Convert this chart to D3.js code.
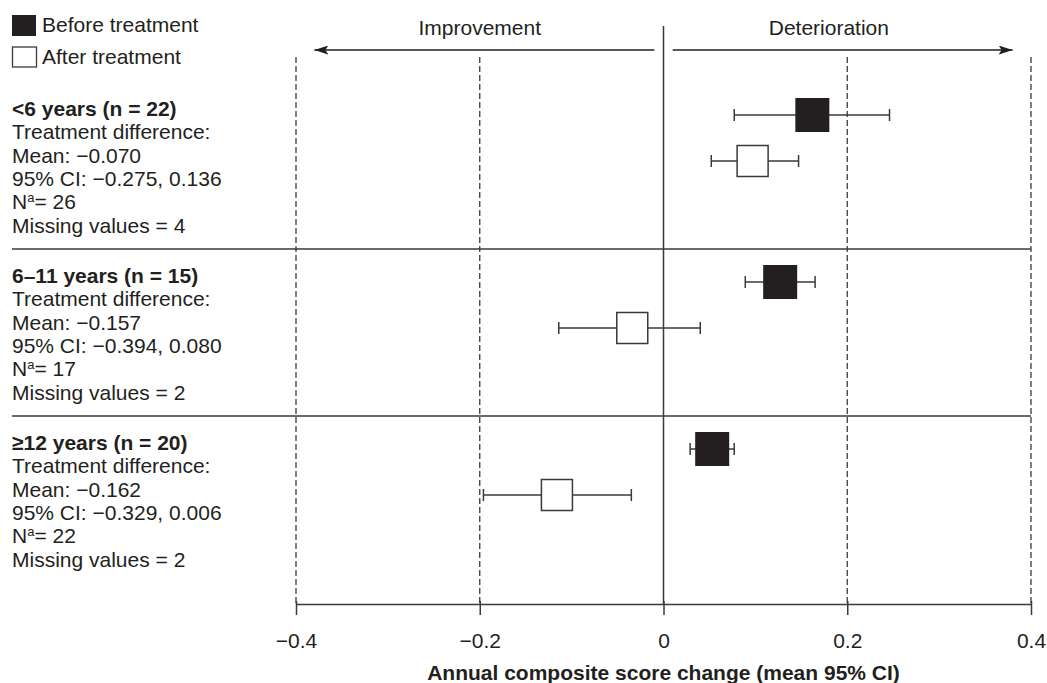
<!DOCTYPE html>
<html>
<head>
<meta charset="utf-8">
<title>Annual composite score change</title>
<script src="https://cdn.jsdelivr.net/npm/d3@7"></script>
<style>
  body { margin: 0; background: #fff; }
  svg text { font-family: "Liberation Sans", Arial, Helvetica, sans-serif; fill: #231f20; }
</style>
</head>
<body>
<div id="chart"></div>
<script>
// age groups, top to bottom
var groups = ["<6 years (n = 22)", "6\u201311 years (n = 15)", "\u226512 years (n = 20)"];

// before treatment: mean and 95% CI
var beforeMean = [0.162, 0.127, 0.053];
var beforeLo   = [0.077, 0.089, 0.029];
var beforeHi   = [0.246, 0.165, 0.077];

// after treatment: mean and 95% CI
var afterMean = [0.097, -0.034, -0.116];
var afterLo   = [0.052, -0.114, -0.196];
var afterHi   = [0.147,  0.040, -0.035];

// treatment difference text
var diffMean = ["\u22120.070", "\u22120.157", "\u22120.162"];
var diffCI   = ["\u22120.275, 0.136", "\u22120.394, 0.080", "\u22120.329, 0.006"];
var nA       = [26, 17, 22];
var missing  = [4, 2, 2];

var xTicks = [-0.4, -0.2, 0, 0.2, 0.4];

var W = 1047, H = 683;
var ink = "#231f20", line = "#3a3a3a";

var svg = d3.select("#chart").append("svg")
    .attr("width", W).attr("height", H);

var x = d3.scaleLinear().domain([-0.4, 0.4]).range([296, 1031]);
var y = d3.scaleBand().domain(groups).range([82, 583]);   // one band per group
var axisY = 604;

// gridlines: dashed at non-zero ticks, solid at 0
svg.selectAll("line.grid")
  .data(xTicks.filter(function(d){ return d !== 0; }))
  .enter().append("line")
    .attr("class", "grid")
    .attr("x1", function(d){ return x(d); }).attr("x2", function(d){ return x(d); })
    .attr("y1", 57).attr("y2", axisY)
    .attr("stroke", line).attr("stroke-width", 1.3)
    .attr("stroke-dasharray", "6,3");

svg.append("line")
    .attr("x1", x(0)).attr("x2", x(0))
    .attr("y1", 26).attr("y2", axisY)
    .attr("stroke", line).attr("stroke-width", 1.5);

// group separators
svg.selectAll("line.sep")
  .data(groups.slice(1))
  .enter().append("line")
    .attr("class", "sep")
    .attr("x1", 12).attr("x2", x(0.4))
    .attr("y1", function(d){ return y(d); }).attr("y2", function(d){ return y(d); })
    .attr("stroke", line).attr("stroke-width", 1.5);

// direction arrows
svg.append("defs").append("marker")
    .attr("id", "head").attr("viewBox", "0 0 14 9")
    .attr("refX", 14).attr("refY", 4.5)
    .attr("markerWidth", 14).attr("markerHeight", 9)
    .attr("markerUnits", "userSpaceOnUse")
    .attr("orient", "auto")
  .append("path").attr("d", "M0,0L14,4.5L0,9L3,4.5Z").attr("fill", ink);

[[-0.01, -0.38], [0.01, 0.38]].forEach(function(a){
  svg.append("line")
      .attr("x1", x(a[0])).attr("x2", x(a[1]))
      .attr("y1", 50).attr("y2", 50)
      .attr("stroke", ink).attr("stroke-width", 1.6)
      .attr("marker-end", "url(#head)");
});

svg.append("text").attr("x", x(-0.2)).attr("y", 35)
    .attr("text-anchor", "middle").attr("font-size", 21).text("Improvement");
svg.append("text").attr("x", x(0.18)).attr("y", 35)
    .attr("text-anchor", "middle").attr("font-size", 21).text("Deterioration");

// x axis
var axis = d3.axisBottom(x)
    .tickValues(xTicks)
    .tickSizeOuter(0)
    .tickFormat(function(d){ return d === 0 ? "0" : d3.format(".1f")(d); });

var gx = svg.append("g").attr("transform", "translate(0," + axisY + ")").call(axis);
gx.select(".domain").attr("stroke", line).attr("stroke-width", 1.5);
gx.selectAll(".tick line").attr("y1", -3).attr("y2", 11)
    .attr("stroke", line).attr("stroke-width", 1.5);
gx.selectAll(".tick text").attr("y", 44).attr("dy", 0)
    .attr("font-size", 21).attr("fill", ink)
    .style("font-family", "'Liberation Sans', Arial, sans-serif");

svg.append("text").attr("x", x(0)).attr("y", 680)
    .attr("text-anchor", "middle").attr("font-size", 21).attr("font-weight", "bold")
    .text("Annual composite score change (mean 95% CI)");

// legend
svg.append("rect").attr("x", 12).attr("y", 15).attr("width", 24).attr("height", 21).attr("fill", ink);
svg.append("text").attr("x", 42).attr("y", 32).attr("font-size", 21).text("Before treatment");
svg.append("rect").attr("x", 12.5).attr("y", 47).attr("width", 24).attr("height", 20)
    .attr("fill", "#fff").attr("stroke", line).attr("stroke-width", 1.3);
svg.append("text").attr("x", 42).attr("y", 64).attr("font-size", 21).text("After treatment");

// group text blocks
var lh = 23.3;
groups.forEach(function(g, i){
  var t = svg.append("text").attr("x", 12).attr("y", y(g) + 34).attr("font-size", 21);
  t.append("tspan").attr("x", 12).attr("font-weight", "bold").text(g);
  t.append("tspan").attr("x", 12).attr("dy", lh).text("Treatment difference:");
  t.append("tspan").attr("x", 12).attr("dy", lh).text("Mean: " + diffMean[i]);
  t.append("tspan").attr("x", 12).attr("dy", lh).text("95% CI: " + diffCI[i]);
  t.append("tspan").attr("x", 12).attr("dy", lh).text("N");
  t.append("tspan").attr("dy", -7).attr("font-size", 13).text("a");
  t.append("tspan").attr("dy", 7).text("= " + nA[i]);
  t.append("tspan").attr("x", 12).attr("dy", lh).text("Missing values = " + missing[i]);
});

// marks
var rows = [];
groups.forEach(function(g, i){
  rows.push({ g: g, kind: "before", m: beforeMean[i], lo: beforeLo[i], hi: beforeHi[i], off: 33, size: 34 });
  rows.push({ g: g, kind: "after",  m: afterMean[i],  lo: afterLo[i],  hi: afterHi[i],  off: 79, size: 31 });
});

var mark = svg.selectAll("g.mark").data(rows).enter().append("g")
    .attr("class", "mark")
    .attr("transform", function(d){ return "translate(0," + (y(d.g) + d.off) + ")"; });

mark.append("line")
    .attr("x1", function(d){ return x(d.lo); }).attr("x2", function(d){ return x(d.hi); })
    .attr("stroke", line).attr("stroke-width", 1.5);
mark.selectAll("line.cap")
  .data(function(d){ return [d.lo, d.hi]; })
  .enter().append("line")
    .attr("class", "cap")
    .attr("x1", function(v){ return x(v); }).attr("x2", function(v){ return x(v); })
    .attr("y1", -6).attr("y2", 6)
    .attr("stroke", line).attr("stroke-width", 1.5);
mark.append("rect")
    .attr("x", function(d){ return x(d.m) - d.size / 2; })
    .attr("y", function(d){ return -d.size / 2; })
    .attr("width", function(d){ return d.size; })
    .attr("height", function(d){ return d.size; })
    .attr("fill", function(d){ return d.kind === "before" ? ink : "#fff"; })
    .attr("stroke", function(d){ return d.kind === "before" ? "none" : line; })
    .attr("stroke-width", 1.5);
</script>
</body>
</html>
